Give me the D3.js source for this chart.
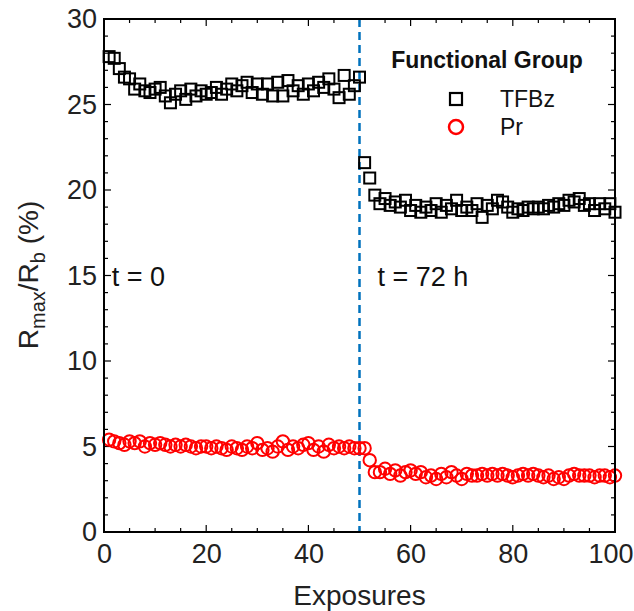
<!DOCTYPE html>
<html><head><meta charset="utf-8">
<script src="https://cdn.jsdelivr.net/npm/d3@7"></script>
<style>body{margin:0;background:#fff}svg{display:block}text{font-family:"Liberation Sans",Arial,sans-serif}</style>
</head><body><svg id="c" width="634" height="611"></svg>
<script>
const exposures = d3.range(1, 101);
const tfbz = [27.8,27.7,27.1,26.6,26.5,25.9,26.2,25.8,25.7,25.9,26.0,25.5,25.1,25.6,25.8,25.3,25.9,25.5,25.8,25.6,
25.7,26.0,25.6,25.9,26.2,25.8,26.1,26.3,25.7,26.2,25.6,26.2,25.5,26.3,25.5,26.4,25.8,26.1,25.6,26.2,
25.8,26.3,26.0,26.5,25.9,25.4,26.7,25.6,26.1,26.6,
21.6,20.7,19.7,19.2,19.5,19.1,19.3,19.0,19.4,18.8,19.1,18.7,19.0,18.8,19.2,18.7,19.1,18.9,19.4,18.8,
19.0,18.8,19.2,18.4,19.1,18.9,19.4,19.3,19.0,18.7,18.9,18.8,19.0,18.9,19.0,18.9,19.1,19.0,19.2,19.1,
19.4,19.3,19.5,19.1,19.2,18.8,19.2,18.9,19.2,18.7];
const pr = [5.4,5.3,5.2,5.1,5.3,5.2,5.3,5.0,5.2,5.1,5.2,5.1,5.0,5.1,5.0,5.1,5.0,4.9,5.0,5.0,
4.9,5.0,4.9,4.8,5.0,4.9,4.8,5.0,4.9,5.2,4.8,4.9,4.7,5.0,5.3,4.8,5.0,4.9,5.1,5.2,
4.8,5.0,4.7,5.1,4.9,5.0,4.9,5.0,4.9,4.9,
4.9,4.2,3.5,3.5,3.7,3.4,3.6,3.3,3.5,3.6,3.4,3.5,3.2,3.3,3.1,3.4,3.2,3.5,3.3,3.1,
3.4,3.3,3.3,3.4,3.3,3.4,3.3,3.4,3.3,3.2,3.3,3.4,3.3,3.4,3.3,3.2,3.3,3.1,3.2,3.1,
3.3,3.4,3.3,3.3,3.3,3.2,3.3,3.3,3.2,3.3];
const xTicks = [0,20,40,60,80,100];
const yTicks = [0,5,10,15,20,25,30];
const xMinor = d3.range(0,101,5);
const yMinor = d3.range(0,31,1);
const splitAt = 50;
const seriesNames = ["TFBz","Pr"];
const annotations = [{x:1.5, y:15, t:"t = 0"},{x:53.5, y:15, t:"t = 72 h"}];

const svg = d3.select("#c");
const L=104, R=615, T=19, B=532;
const x = d3.scaleLinear().domain([0,100]).range([L,R]);
const y = d3.scaleLinear().domain([0,30]).range([B,T]);

// minor/major inward ticks on all sides
const g = svg.append("g");
const tick = (x1,y1,x2,y2)=>g.append("line").attr("x1",x1).attr("y1",y1).attr("x2",x2).attr("y2",y2).attr("stroke","#000").attr("stroke-width",1.2);
yMinor.forEach(v=>{ const len = v%5===0?7:4; tick(L,y(v),L+len,y(v)); tick(R,y(v),R-len,y(v)); });
xMinor.forEach(v=>{ const len = v%20===0?7:4; tick(x(v),B,x(v),B-len); tick(x(v),T,x(v),T+len); });

// axis tick labels via d3 axes
const xa = svg.append("g").attr("transform",`translate(0,${B})`).call(d3.axisBottom(x).tickValues(xTicks).tickSize(0).tickPadding(12));
const ya = svg.append("g").attr("transform",`translate(${L},0)`).call(d3.axisLeft(y).tickValues(yTicks).tickSize(0).tickPadding(7));
[xa,ya].forEach(a=>{a.select(".domain").remove(); a.selectAll("text").attr("font-size",27).attr("fill","#222").style("font-family","Liberation Sans, Arial, sans-serif");});
xa.selectAll(".tick").filter(d=>d===100).select("text").attr("text-anchor","end").attr("x",633-R);

// dashed split line
svg.append("line").attr("x1",x(splitAt)).attr("x2",x(splitAt)).attr("y1",T).attr("y2",B)
  .attr("stroke","#0072BD").attr("stroke-width",2.5).attr("stroke-dasharray","8,5");

// data
const s=11;
svg.append("g").selectAll("rect").data(exposures).join("rect")
  .attr("x",d=>x(d)-s/2).attr("y",(d,i)=>y(tfbz[i])-s/2).attr("width",s).attr("height",s)
  .attr("fill","none").attr("stroke","#000").attr("stroke-width",2);
svg.append("g").selectAll("circle").data(exposures).join("circle")
  .attr("cx",d=>x(d)).attr("cy",(d,i)=>y(pr[i])).attr("r",6.2)
  .attr("fill","none").attr("stroke","#ff0000").attr("stroke-width",2);

// box
svg.append("rect").attr("x",L).attr("y",T).attr("width",R-L).attr("height",B-T).attr("fill","none").attr("stroke","#000").attr("stroke-width",2);

// annotations
annotations.forEach(a=>svg.append("text").attr("x",x(a.x)).attr("y",y(a.y)+10).attr("font-size",27).attr("fill","#111").text(a.t));

// legend
svg.append("text").attr("x",487).attr("y",68).attr("text-anchor","middle").attr("font-size",23).attr("font-weight","bold").attr("fill","#111").text("Functional Group");
svg.append("rect").attr("x",456-6).attr("y",99-6).attr("width",12).attr("height",12).attr("fill","none").attr("stroke","#000").attr("stroke-width",2.2);
svg.append("circle").attr("cx",456).attr("cy",127).attr("r",7).attr("fill","none").attr("stroke","#ff0000").attr("stroke-width",2.5);
svg.append("text").attr("x",500).attr("y",107).attr("font-size",23).attr("fill","#111").text(seriesNames[0]);
svg.append("text").attr("x",500).attr("y",135).attr("font-size",23).attr("fill","#111").text(seriesNames[1]);

// axis titles
svg.append("text").attr("x",(L+R)/2).attr("y",605).attr("text-anchor","middle").attr("font-size",28).attr("fill","#222").text("Exposures");
const yl = svg.append("text").attr("transform","translate(38,275) rotate(-90)").attr("text-anchor","middle").attr("font-size",28).attr("fill","#222");
yl.append("tspan").text("R");
yl.append("tspan").attr("font-size",20).attr("dy",7).text("max");
yl.append("tspan").attr("dy",-7).text("/R");
yl.append("tspan").attr("font-size",20).attr("dy",7).text("b");
yl.append("tspan").attr("dy",-7).text(" (%)");
</script></body></html>
